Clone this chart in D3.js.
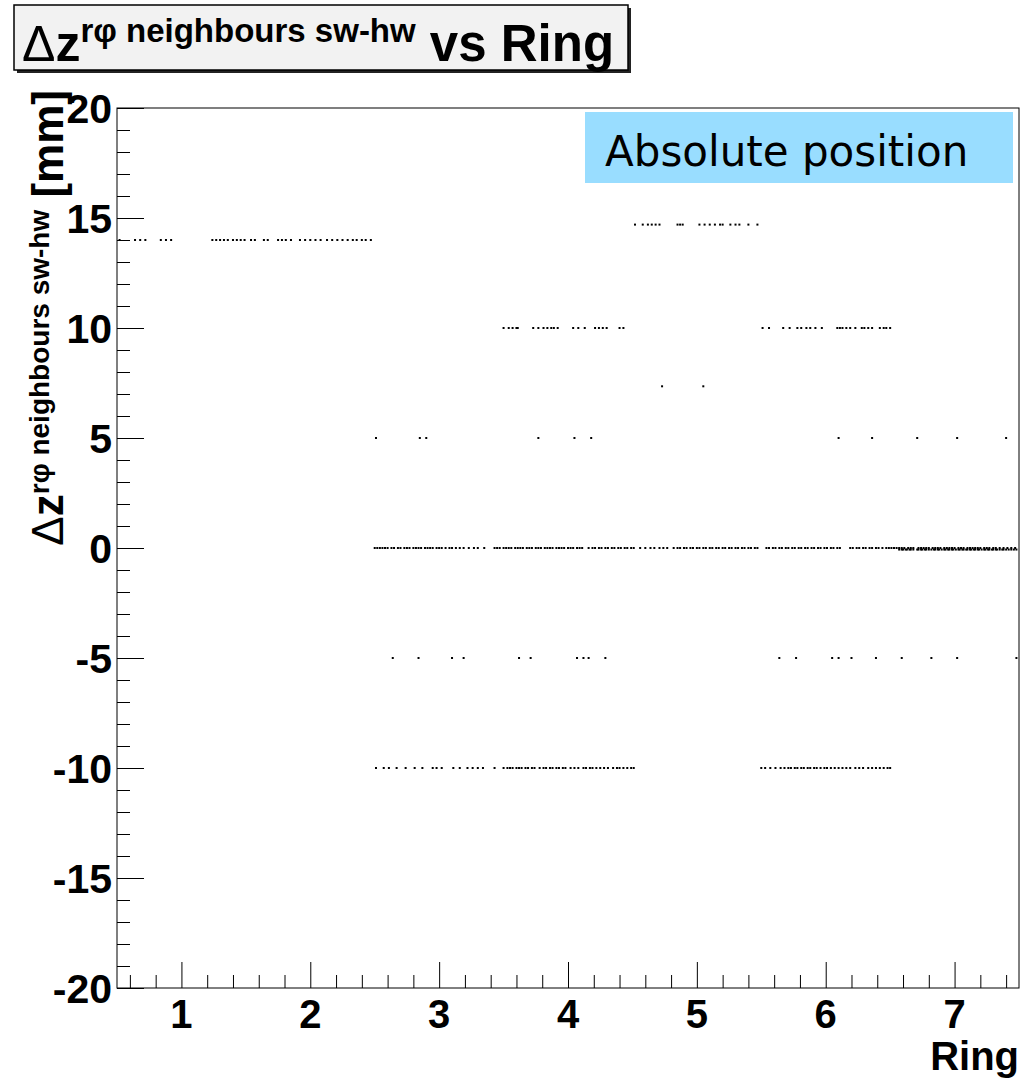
<!DOCTYPE html>
<html><head><meta charset="utf-8">
<script src="https://cdn.jsdelivr.net/npm/d3@7"></script>
<style>body{margin:0;background:#fff}</style>
</head><body>
<svg id="c" width="1031" height="1082"></svg>
<script>
// ---- data (x = Ring, y = Δz in mm) ----
const xTicks = [1, 2, 3, 4, 5, 6, 7];
const yTicks = [-20, -15, -10, -5, 0, 5, 10, 15, 20];
const xDomain = [0.5, 7.5];
const yDomain = [-20, 20];

const dz14 = [0.52,0.64,0.68,0.72,0.84,0.88,0.92,1.24,1.27,1.30,1.33,1.36,1.40,1.43,1.46,1.49,1.54,1.57,1.64,1.67,1.75,1.78,1.81,1.85,1.92,1.96,2.00,2.04,2.08,2.13,2.17,2.21,2.25,2.29,2.33,2.36,2.40,2.43,2.47];
const dz14_7 = [4.52,4.58,4.62,4.65,4.68,4.71,4.85,4.87,4.89,5.02,5.06,5.10,5.14,5.18,5.20,5.26,5.30,5.33,5.40,5.47];
const dz10 = [3.50,3.54,3.57,3.60,3.61,3.73,3.77,3.81,3.84,3.87,3.89,3.92,4.04,4.08,4.13,4.21,4.24,4.27,4.30,4.40,4.43,
              5.51,5.56,5.67,5.72,5.78,5.81,5.85,5.88,5.92,5.97,6.09,6.11,6.13,6.16,6.19,6.23,6.28,6.30,6.33,6.36,6.42,6.45,6.47,6.50];
const dz7_35 = [4.73, 5.05];
const dz5 = [2.51,2.85,2.90,3.77,4.05,4.18,6.10,6.36,6.71,7.02,7.40];
const dz0 = [2.50,2.52,2.54,2.56,2.58,2.60,2.63,2.65,2.68,2.70,2.73,2.75,2.77,2.80,2.82,2.84,2.86,2.89,2.91,2.93,2.95,2.98,3.00,3.02,3.05,3.08,3.10,3.13,
             3.16,3.19,3.23,3.27,3.30,3.35,3.43,3.45,3.47,3.50,3.52,3.54,3.56,3.59,3.61,3.63,3.65,3.68,3.70,3.72,3.75,3.77,3.79,3.82,3.84,3.86,3.88,3.91,3.93,3.95,3.97,4.00,4.02,4.04,
             4.07,4.09,4.11,4.16,4.19,4.21,4.24,4.26,4.29,4.31,4.34,4.36,4.39,4.41,4.44,4.46,4.49,4.51,4.56,4.60,4.64,4.67,4.71,4.74,4.77,
             4.82,4.85,4.87,4.90,4.92,4.95,4.97,5.00,5.02,5.05,5.07,5.10,5.12,5.15,5.17,5.20,5.22,5.25,5.27,5.30,5.32,5.35,5.37,5.40,5.42,5.45,5.47,
             5.54,5.56,5.59,5.61,5.64,5.66,5.69,5.71,5.74,5.76,5.79,5.81,5.84,5.86,5.89,5.91,5.94,5.96,5.99,6.01,6.04,6.06,6.09,6.11,
             6.19,6.21,6.24,6.26,6.29,6.31,6.34,6.36,6.39,6.41,6.44,6.47,6.49,6.51,6.53,6.55,
             6.57,6.59,6.61,6.64,6.66,6.68,6.72,6.74,6.76,6.78,6.80,6.83,6.85,6.87,6.89,6.92,6.94,6.96,6.98,7.00,7.03,7.05,7.07,7.10,7.12,7.14,7.16,7.18,7.20,7.23,7.25,7.27,7.30,7.32,7.35,7.38,7.41,7.44,7.47];
const dz0low = [6.57,6.59,6.60,6.62,6.63,6.65,6.66,6.68,6.71,6.72,6.74,6.75,6.77,6.78,6.80,6.82,6.84,6.85,6.87,6.88,6.90,
                6.92,6.93,6.95,6.96,6.98,6.99,7.01,7.03,7.04,7.06,7.07,7.09,7.10,7.12,7.13,7.15,7.16,7.18,7.19,7.21,
                7.23,7.24,7.26,7.27,7.29,7.30,7.32,7.33,7.35,7.37,7.38,7.40,7.42,7.44,7.46,7.48];
const dzM5 = [2.64,2.84,3.10,3.19,3.62,3.71,4.07,4.12,4.16,4.29,5.64,5.77,6.05,6.10,6.20,6.39,6.59,6.82,7.02,7.48];
const dzM10 = [2.51,2.57,2.61,2.67,2.74,2.81,2.87,2.95,2.98,3.02,3.11,3.16,3.22,3.26,3.30,3.34,3.43,3.50,3.53,3.55,3.57,3.60,3.62,3.64,3.67,3.69,3.72,3.74,
               3.78,3.81,3.83,3.86,3.88,3.91,3.93,3.96,3.98,4.02,4.05,4.08,4.12,4.14,4.17,4.19,4.22,4.25,4.28,4.31,4.35,4.38,4.40,4.43,4.46,4.49,4.51,
               5.50,5.53,5.57,5.61,5.65,5.68,5.71,5.73,5.76,5.78,5.81,5.83,5.86,5.88,5.91,5.93,5.96,5.99,6.01,6.04,6.07,6.10,6.13,6.16,6.19,6.23,6.26,6.29,6.33,6.36,6.39,6.42,6.45,6.48,6.50];

const rows = [
  {y: 14, xs: dz14}, {y: 14.7, xs: dz14_7}, {y: 10, xs: dz10}, {y: 7.35, xs: dz7_35},
  {y: 5, xs: dz5}, {y: 0, xs: dz0}, {y: -0.07, xs: dz0low}, {y: -5, xs: dzM5}, {y: -10, xs: dzM10}
];
const points = rows.flatMap(r => r.xs.map(x => ({x, y: r.y})));

// ---- layout ----
const svg = d3.select("#c");
const L = 117, R = 1019, T = 108, B = 988;
const x = d3.scaleLinear().domain(xDomain).range([L, R]);
const y = d3.scaleLinear().domain(yDomain).range([B, T]);
const bold = "'Liberation Sans', Arial, Helvetica, sans-serif";

// title box
svg.append("rect").attr("x", 17).attr("y", 8).attr("width", 614).attr("height", 65).attr("fill", "#222");
svg.append("rect").attr("x", 14).attr("y", 5).attr("width", 614).attr("height", 65)
  .attr("fill", "#f2f2f2").attr("stroke", "#000").attr("stroke-width", 1.5);
const tt = svg.append("text").attr("x", 22).attr("y", 61).attr("font-family", bold).attr("font-weight", "bold").attr("font-size", 50);
tt.append("tspan").attr("font-weight", "normal").text("Δ");
tt.append("tspan").text("z");
tt.append("tspan").attr("font-size", 33).attr("dy", -19).text("rφ neighbours sw-hw");
tt.append("tspan").attr("dy", 19).attr("font-size", 51).text(" vs Ring");

// frame
svg.append("rect").attr("x", L).attr("y", T).attr("width", R - L).attr("height", B - T)
  .attr("fill", "#fff").attr("stroke", "#000").attr("stroke-width", 1);

// legend box
svg.append("rect").attr("x", 585).attr("y", 112).attr("width", 428).attr("height", 71).attr("fill", "#99ddff");
svg.append("text").attr("x", 605).attr("y", 166).attr("font-family", "'DejaVu Sans', Verdana, sans-serif")
  .attr("font-size", 42).attr("fill", "#000").text("Absolute position");

// points
svg.append("g").selectAll("rect").data(points).join("rect")
  .attr("x", d => x(d.x) - 1).attr("y", d => y(d.y) - 1)
  .attr("width", 2).attr("height", 2).attr("fill", "#000");

// axes ticks
const yMinor = d3.range(-20, 21, 1);
const xMinor = d3.range(6, 75, 2).map(v => v / 10);
svg.append("g").attr("transform", `translate(${L},0)`)
  .call(d3.axisRight(y).tickValues(yMinor.filter(v => v % 5 !== 0)).tickSize(13).tickFormat(""))
  .call(g => g.select(".domain").remove());
svg.append("g").attr("transform", `translate(${L},0)`)
  .call(d3.axisRight(y).tickValues(yTicks).tickSize(27).tickFormat(""))
  .call(g => g.select(".domain").remove());
svg.append("g").attr("transform", `translate(0,${B})`)
  .call(d3.axisTop(x).tickValues(xMinor.filter(v => Math.abs(v - Math.round(v)) > 1e-6)).tickSize(13).tickFormat(""))
  .call(g => g.select(".domain").remove());
svg.append("g").attr("transform", `translate(0,${B})`)
  .call(d3.axisTop(x).tickValues(xTicks).tickSize(26).tickFormat(""))
  .call(g => g.select(".domain").remove());
svg.selectAll(".tick line").attr("stroke", "#000").attr("stroke-width", 1);

// tick labels
svg.append("g").selectAll("text").data(yTicks).join("text")
  .attr("x", 112).attr("y", d => y(d)).attr("dy", "0.36em").attr("text-anchor", "end")
  .attr("font-family", bold).attr("font-weight", "bold").attr("font-size", 41).text(d => d);
svg.append("g").selectAll("text").data(xTicks).join("text")
  .attr("x", d => x(d)).attr("y", 1028).attr("text-anchor", "middle")
  .attr("font-family", bold).attr("font-weight", "bold").attr("font-size", 40).text(d => d);

// axis titles
svg.append("text").attr("x", R).attr("y", 1070).attr("text-anchor", "end")
  .attr("font-family", bold).attr("font-weight", "bold").attr("font-size", 40).text("Ring");
const yt = svg.append("text").attr("transform", "translate(63,90) rotate(-90)").attr("text-anchor", "end")
  .attr("font-family", bold).attr("font-weight", "bold").attr("font-size", 44);
yt.append("tspan").attr("font-weight", "normal").text("Δ");
yt.append("tspan").text("z");
yt.append("tspan").attr("font-size", 28).attr("dy", -14).text("rφ neighbours sw-hw");
yt.append("tspan").attr("dy", 14).text(" [mm]");
</script>
</body></html>
